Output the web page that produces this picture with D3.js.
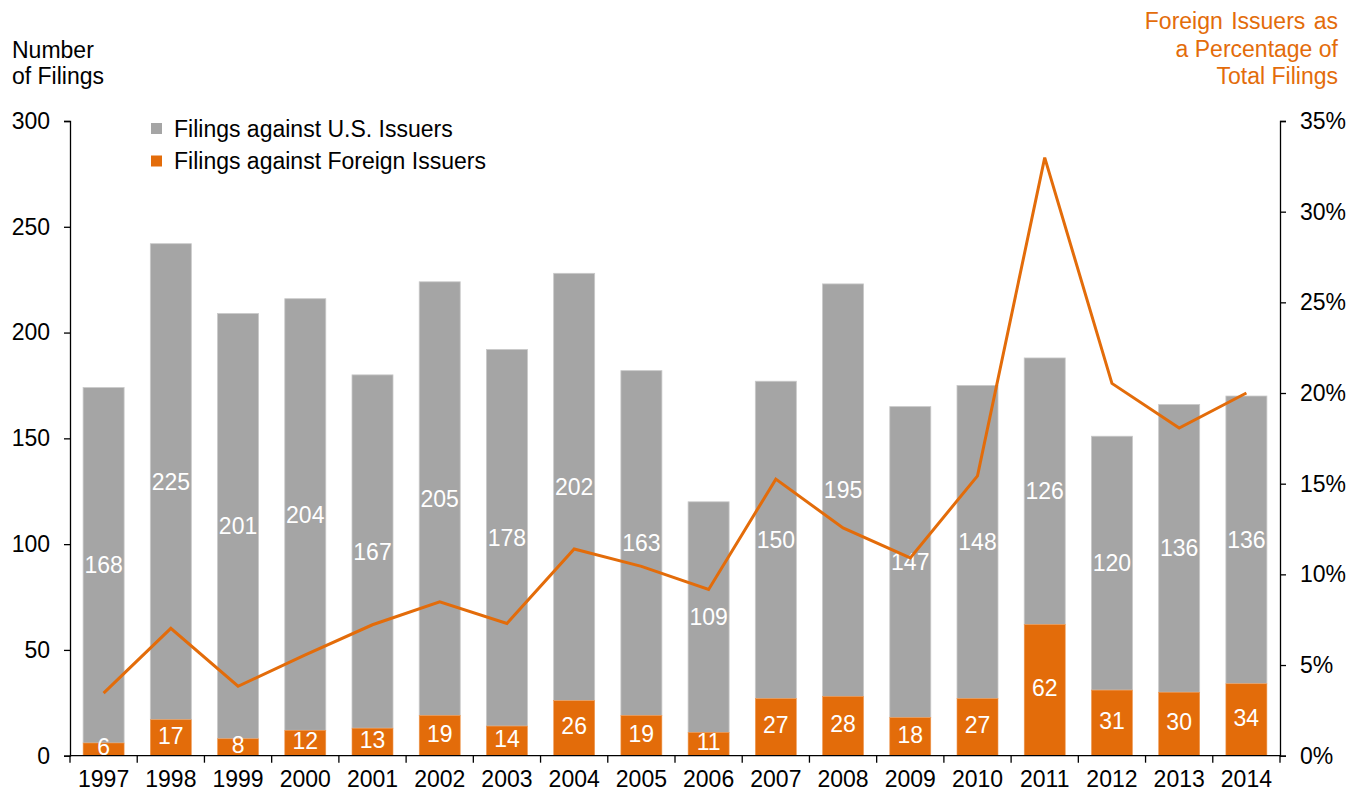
<!DOCTYPE html>
<html>
<head>
<meta charset="utf-8">
<script src="https://cdn.jsdelivr.net/npm/d3@7"></script>
<style>
  html, body { margin: 0; padding: 0; background: #fff; }
  svg { display: block; font-family: "Liberation Sans", Arial, sans-serif; }
</style>
</head>
<body>
<svg id="chart" width="1361" height="794"></svg>
<script>
const years = ["1997","1998","1999","2000","2001","2002","2003","2004","2005","2006","2007","2008","2009","2010","2011","2012","2013","2014"];
const usFilings = [168,225,201,204,167,205,178,202,163,109,150,195,147,148,126,120,136,136];
const foreignFilings = [6,17,8,12,13,19,14,26,19,11,27,28,18,27,62,31,30,34];
const foreignPct = [3.45,7.02,3.83,5.56,7.22,8.48,7.29,11.40,10.44,9.17,15.25,12.56,10.91,15.43,32.98,20.53,18.07,20.00];
const leftTicks = [0,50,100,150,200,250,300];
const rightTicks = [0,5,10,15,20,25,30,35];

const GRAY = "#a5a5a5", ORANGE = "#e36c0a";
const FS = 23;
const svg = d3.select("#chart");
const x0 = 70, x1 = 1280, yTop = 121, yBot = 755.7;

const x = d3.scaleBand().domain(years).range([x0, x1]).paddingInner(0.39).paddingOuter(0.195);
const xb = d3.scaleBand().domain(years).range([x0, x1]);
const yL = d3.scaleLinear().domain([0, 300]).range([yBot, yTop]);
const yR = d3.scaleLinear().domain([0, 35]).range([yBot, yTop]);

const data = years.map((yr, i) => ({yr, us: usFilings[i], fo: foreignFilings[i], pct: foreignPct[i]}));

// bars
const g = svg.append("g");
g.selectAll("rect.us").data(data).enter().append("rect")
  .attr("x", d => x(d.yr)).attr("width", x.bandwidth())
  .attr("y", d => yL(d.fo + d.us)).attr("height", d => yL(d.fo) - yL(d.fo + d.us))
  .attr("fill", GRAY).attr("stroke", "#c9c9c9").attr("stroke-width", 0.8);
g.selectAll("rect.fo").data(data).enter().append("rect")
  .attr("x", d => x(d.yr)).attr("width", x.bandwidth())
  .attr("y", d => yL(d.fo)).attr("height", d => yL(0) - yL(d.fo))
  .attr("fill", ORANGE).attr("stroke", "#ee9a55").attr("stroke-width", 0.6);

// bar labels
g.selectAll("text.us").data(data).enter().append("text")
  .attr("x", d => x(d.yr) + x.bandwidth() / 2)
  .attr("y", d => yL(d.fo + d.us / 2))
  .attr("dy", "0.35em").attr("text-anchor", "middle")
  .attr("fill", "#fff").attr("font-size", FS).text(d => d.us);
g.selectAll("text.fo").data(data).enter().append("text")
  .attr("x", d => x(d.yr) + x.bandwidth() / 2)
  .attr("y", d => yL(d.fo / 2) - 2)
  .attr("dy", "0.35em").attr("text-anchor", "middle")
  .attr("fill", "#fff").attr("font-size", FS).text(d => d.fo);

// line
const line = d3.line().x(d => x(d.yr) + x.bandwidth() / 2).y(d => yR(d.pct));
svg.append("path").datum(data).attr("d", line)
  .attr("fill", "none").attr("stroke", ORANGE).attr("stroke-width", 3).attr("stroke-linejoin", "miter");

// axes
function styleAxis(sel) {
  sel.selectAll("path, line").attr("stroke", "#000").attr("stroke-width", 1.3);
  sel.selectAll("text").attr("font-size", FS).attr("fill", "#000").attr("font-family", "Liberation Sans, Arial, sans-serif");
}
const axL = svg.append("g").attr("transform", `translate(${x0},0)`)
  .call(d3.axisLeft(yL).tickValues(leftTicks).tickSize(6).tickSizeOuter(6).tickPadding(14));
styleAxis(axL);
const axR = svg.append("g").attr("transform", `translate(${x1},0)`)
  .call(d3.axisRight(yR).tickValues(rightTicks).tickSize(6).tickSizeOuter(6).tickPadding(14).tickFormat(d => d + "%"));
styleAxis(axR);

// x axis: baseline + ticks at band boundaries
const axX = svg.append("g").attr("transform", `translate(0,${yBot})`)
  .call(d3.axisBottom(xb).tickSize(0).tickSizeOuter(0).tickPadding(15));
styleAxis(axX);
axX.select("path").attr("d", `M${x0},0H${x1}`);
const bounds = years.map(yr => xb(yr)).concat([x1]);
axX.selectAll("line.bnd").data(bounds).enter().append("line").attr("class", "bnd")
  .attr("x1", d => d).attr("x2", d => d).attr("y1", 0).attr("y2", 7)
  .attr("stroke", "#000").attr("stroke-width", 1.3);

// titles
const tl = svg.append("text").attr("font-size", FS).attr("fill", "#000");
tl.append("tspan").attr("x", 12).attr("y", 58).text("Number");
tl.append("tspan").attr("x", 12).attr("y", 84).text("of Filings");
const tr = svg.append("text").attr("font-size", FS).attr("fill", ORANGE).attr("text-anchor", "end");
tr.append("tspan").attr("x", 1338).attr("y", 29).attr("word-spacing", 2).text("Foreign Issuers as");
tr.append("tspan").attr("x", 1338).attr("y", 57).text("a Percentage of");
tr.append("tspan").attr("x", 1338).attr("y", 84).text("Total Filings");

// legend
const legend = [{label: "Filings against U.S. Issuers", color: GRAY}, {label: "Filings against Foreign Issuers", color: ORANGE}];
const lg = svg.append("g").selectAll("g").data(legend).enter().append("g")
  .attr("transform", (d, i) => `translate(151,${123 + i * 32.5})`);
lg.append("rect").attr("width", 11).attr("height", 11).attr("fill", d => d.color);
lg.append("text").attr("x", 23).attr("y", 5.5).attr("dy", "0.35em").attr("font-size", FS).attr("fill", "#000").text(d => d.label);
</script>
</body>
</html>
